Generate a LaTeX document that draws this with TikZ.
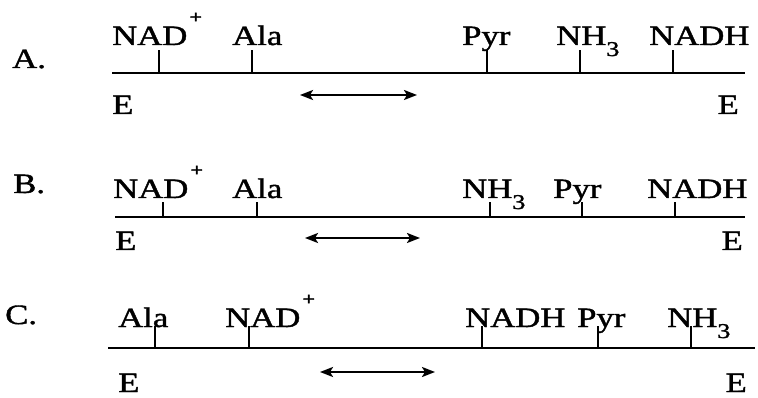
\documentclass[tikz,border=0pt]{standalone}
\usepackage{fontspec}
\setmainfont{Liberation Serif}[FakeStretch=1.24,FakeBold=1.4]
\usetikzlibrary{arrows.meta}
\newcommand\plusup{\kern2pt\raisebox{22pt}{\fontsize{18}{18}\selectfont\bfseries +}}
\newcommand\subthree{\raisebox{-11pt}{\fontsize{21}{21}\selectfont 3}}
\begin{document}
\begin{tikzpicture}[x=1pt,y=-1pt,
  lbl/.style={anchor=base west,inner sep=0pt,font=\fontsize{28}{28}\selectfont},
  lble/.style={anchor=base east,inner sep=0pt,font=\fontsize{28}{28}\selectfont},
  baseline/.style={line width=2.2pt},
  tickline/.style={line width=1.5pt},
  dblarrow/.style={line width=2.2pt,{Stealth[length=13pt,width=10pt,inset=3pt]}-{Stealth[length=13pt,width=10pt,inset=3pt]}}]
\useasboundingbox[fill=white] (0,0) rectangle (758,398);

% ---------- Row A ----------
\node[lbl] (rA) at (12,68) {A.};
\node[lbl] (a1) at (112,45) {NAD\plusup};
\node[lbl] (a2) at (232,45) {Ala};
\node[lbl] (a3) at (462,45) {Pyr};
\node[lbl] (a4) at (556,45) {NH\subthree};
\node[lbl] (a5) at (649,45) {NADH};
\node[lbl] (aE1) at (112,114) {E};
\node[lble] (aE2) at (739,114) {E};
\coordinate (aL) at (112,73); \coordinate (aR) at (745,73);
\draw[baseline] (aL) -- (aR);
\foreach \x/\n in {159/1,252/2,487/3,580/4,673/5}{
  \coordinate (at\n b) at (\x,73); \coordinate (at\n t) at (\x,50);
  \draw[tickline] (at\n b) -- (at\n t);}
\coordinate (aA1) at (300,95); \coordinate (aA2) at (417,95);
\draw[dblarrow] (aA1) -- (aA2);

% ---------- Row B ----------
\node[lbl] (rB) at (13,193) {B.};
\node[lbl] (b1) at (113,198) {NAD\plusup};
\node[lbl] (b2) at (232,198) {Ala};
\node[lbl] (b3) at (462,198) {NH\subthree};
\node[lbl] (b4) at (553,198) {Pyr};
\node[lbl] (b5) at (647,198) {NADH};
\node[lbl] (bE1) at (115,250) {E};
\node[lble] (bE2) at (743,250) {E};
\coordinate (bL) at (115,217); \coordinate (bR) at (745,217);
\draw[baseline] (bL) -- (bR);
\foreach \x/\n in {163/1,257/2,490/3,582/4,675/5}{
  \coordinate (bt\n b) at (\x,217); \coordinate (bt\n t) at (\x,202);
  \draw[tickline] (bt\n b) -- (bt\n t);}
\coordinate (bA1) at (305,238); \coordinate (bA2) at (420,238);
\draw[dblarrow] (bA1) -- (bA2);

% ---------- Row C ----------
\node[lbl] (rC) at (5,324) {C.};
\node[lbl] (c1) at (118,327) {Ala};
\node[lbl] (c2) at (225,327) {NAD\plusup};
\node[lbl] (c3) at (465,327) {NADH};
\node[lbl] (c4) at (577,327) {Pyr};
\node[lbl] (c5) at (667,327) {NH\subthree};
\node[lbl] (cE1) at (118,392) {E};
\node[lble] (cE2) at (747,392) {E};
\coordinate (cL) at (108,348); \coordinate (cR) at (755,348);
\draw[baseline] (cL) -- (cR);
\foreach \x/\n in {155/1,249/2,482/3,598/4,691/5}{
  \coordinate (ct\n b) at (\x,348); \coordinate (ct\n t) at (\x,326);
  \draw[tickline] (ct\n b) -- (ct\n t);}
\coordinate (cA1) at (320,372); \coordinate (cA2) at (435,372);
\draw[dblarrow] (cA1) -- (cA2);
\end{tikzpicture}
\end{document}
